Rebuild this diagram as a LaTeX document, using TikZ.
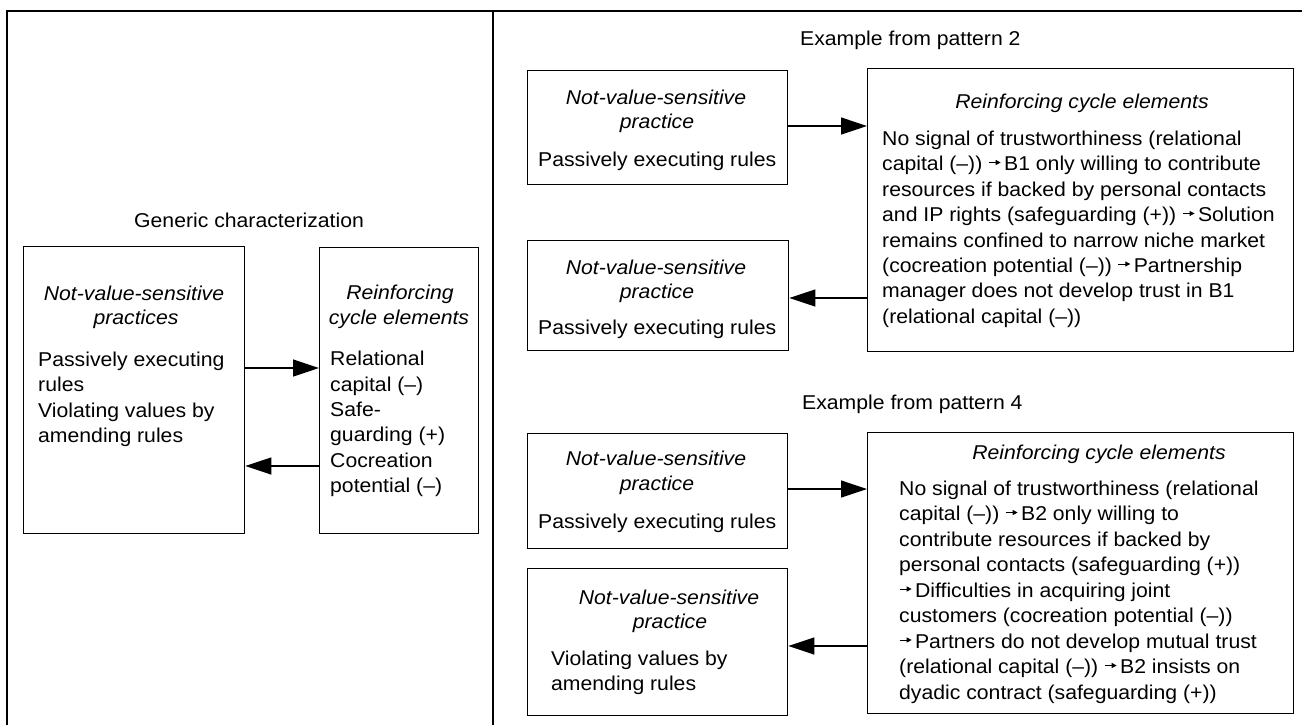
\documentclass[tikz,border=0pt]{standalone}
\usepackage{fontspec}
\setmainfont{Liberation Sans}[FakeStretch=1.06]
\usetikzlibrary{arrows.meta}
\newcommand\sar{\tikz[baseline={(0pt,-8pt)}]\draw[line width=0.9pt,-{Triangle[length=5pt,width=5pt]}] (0pt,0pt) -- (12pt,0pt);\hspace{3pt}}
\newcommand\fsz{\fontsize{20}{25}\selectfont}
\begin{document}
\begin{tikzpicture}[x=1pt,y=-1pt,
  txt/.style={inner sep=0pt,font=\fsz,anchor=base west},
  ctx/.style={inner sep=0pt,font=\fsz\itshape,anchor=base},
  box/.style={draw,line width=1.3pt,inner sep=0pt,anchor=north west},
  big/.style={line width=1.3pt,-{Triangle[length=26pt,width=17pt]}},
  frame/.style={line width=2pt}]
\useasboundingbox (0,0) rectangle (1302,724);
% frame
\draw[frame] (1303,11) -- (7,11) -- (7,725);
\draw[frame] (493,11) -- (493,725);

% ---------- left panel ----------
\node[txt] (gt) at (134,227) {Generic characterization};
\node[box,minimum width=221pt,minimum height=287pt] (L) at (23,246) {};
\node[box,minimum width=159pt,minimum height=286pt] (R) at (319,247) {};
\node[ctx] (l1) at (134,300) {Not-value-sensitive};
\node[ctx] (l2) at (136,324) {practices};
\node[txt] (l3) at (38,366) {Passively executing};
\node[txt] (l4) at (38,391) {rules};
\node[txt] (l5) at (38,417) {Violating values by};
\node[txt] (l6) at (38,442) {amending rules};
\node[ctx] (r1) at (400,299) {Reinforcing};
\node[ctx] (r2) at (399,324) {cycle elements};
\node[txt] (r3) at (330,365) {Relational};
\node[txt] (r4) at (330,391) {capital (–)};
\node[txt] (r5) at (330,416) {Safe-};
\node[txt] (r6) at (330,441) {guarding (+)};
\node[txt] (r7) at (330,467) {Cocreation};
\node[txt] (r8) at (330,492) {potential (–)};
\coordinate (ya) at (0,368);
\coordinate (yb) at (0,466);
\draw[big] (L.east |- ya) -- (R.west |- ya);
\draw[big] (R.west |- yb) -- (L.east |- yb);

% ---------- pattern 2 ----------
\node[txt] (e2) at (800,45) {Example from pattern 2};
\node[box,minimum width=260pt,minimum height=114pt] (A1) at (527,70) {};
\node[box,minimum width=261pt,minimum height=110pt] (A2) at (527,240) {};
\node[box,minimum width=426pt,minimum height=283pt] (B1) at (867,68) {};
\node[ctx] (a11) at (656,104) {Not-value-sensitive};
\node[ctx] (a12) at (657,128) {practice};
\node[txt] (a13) at (538,166) {Passively executing rules};
\node[ctx] (a21) at (656,274) {Not-value-sensitive};
\node[ctx] (a22) at (657,298) {practice};
\node[txt] (a23) at (538,334) {Passively executing rules};
\node[ctx] (b10) at (1082,108) {Reinforcing cycle elements};
\node[txt] (b11) at (882,145) {No signal of trustworthiness (relational};
\node[txt] (b12) at (882,170.5) {capital (–)) \sar B1 only willing to contribute};
\node[txt] (b13) at (882,196) {resources if backed by personal contacts};
\node[txt] (b14) at (882,221.5) {and IP rights (safeguarding (+)) \sar Solution};
\node[txt] (b15) at (882,247) {remains confined to narrow niche market};
\node[txt] (b16) at (882,272) {(cocreation potential (–)) \sar Partnership};
\node[txt] (b17) at (882,297.5) {manager does not develop trust in B1};
\node[txt] (b18) at (882,323) {(relational capital (–))};
\coordinate (yc) at (0,126);
\coordinate (yd) at (0,298);
\draw[big] (A1.east |- yc) -- (B1.west |- yc);
\draw[big] (B1.west |- yd) -- (A2.east |- yd);

% ---------- pattern 4 ----------
\node[txt] (e4) at (802,409) {Example from pattern 4};
\node[box,minimum width=260pt,minimum height=115pt] (A3) at (527,433) {};
\node[box,minimum width=260pt,minimum height=147pt] (A4) at (527,568) {};
\node[box,minimum width=426pt,minimum height=281pt] (B2) at (867,432) {};
\node[ctx] (a31) at (656,465) {Not-value-sensitive};
\node[ctx] (a32) at (657,490) {practice};
\node[txt] (a33) at (538,528) {Passively executing rules};
\node[ctx] (a41) at (669,604) {Not-value-sensitive};
\node[ctx] (a42) at (670,628) {practice};
\node[txt] (a43) at (551,665) {Violating values by};
\node[txt] (a44) at (551,690) {amending rules};
\node[ctx] (b20) at (1099,459) {Reinforcing cycle elements};
\node[txt] (b21) at (899,495) {No signal of trustworthiness (relational};
\node[txt] (b22) at (899,520.5) {capital (–)) \sar B2 only willing to};
\node[txt] (b23) at (899,546) {contribute resources if backed by};
\node[txt] (b24) at (899,571.5) {personal contacts (safeguarding (+))};
\node[txt] (b25) at (899,597) {\sar Difficulties in acquiring joint};
\node[txt] (b26) at (899,622.5) {customers (cocreation potential (–))};
\node[txt] (b27) at (899,648) {\sar Partners do not develop mutual trust};
\node[txt] (b28) at (899,673.5) {(relational capital (–)) \sar B2 insists on};
\node[txt] (b29) at (899,699) {dyadic contract (safeguarding (+))};
\coordinate (ye) at (0,489);
\coordinate (yf) at (0,646);
\draw[big] (A3.east |- ye) -- (B2.west |- ye);
\draw[big] (B2.west |- yf) -- (A4.east |- yf);
\end{tikzpicture}
\end{document}
